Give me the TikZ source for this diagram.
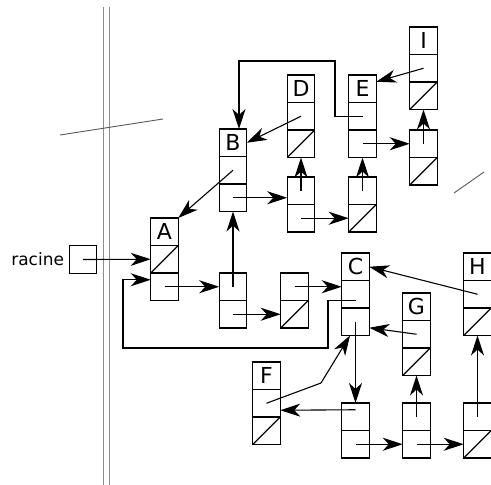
\documentclass[tikz,border=0pt]{standalone}
\usepackage{fontspec}
\setmainfont{DejaVu Sans}
\usepackage{tikz}
\usetikzlibrary{arrows.meta,calc,positioning}

\begin{document}
\begin{tikzpicture}[
  x=1pt, y=-1pt,
  cell/.style={rectangle, draw, line width=1.1pt, minimum width=27.5pt, minimum height=27.5pt, inner sep=0pt, outer sep=0pt, font=\fontsize{22}{22}\selectfont},
  nil/.style={path picture={\draw[line width=1.1pt] (path picture bounding box.south west) -- (path picture bounding box.north east);}},
  arrow/.style={-{Stealth[length=20pt, width=13pt, inset=6pt]}, line width=1.1pt},
  wall/.style={draw=black!45, line width=1pt},
  cut/.style={draw=black!65, line width=0.9pt}
]
\useasboundingbox (0,0) rectangle (491,485);

% the wall and the cuts
\draw[wall] (103,7) -- (103,485);
\draw[wall] (109.5,7) -- (109.5,485);
\draw[cut] (60,135) -- (163,119);
\draw[cut] (454,193) -- (484,172);

% root pointer
\node[cell] (R) at (83,259.5) {};
\node[left=4pt of R, inner sep=1pt, font=\fontsize{17}{17}\selectfont] (racine) {racine};

% named nodes: label, first cell, second cell
\node[cell] (A1) at (164.5,231.75) {A};
\node[cell, nil, below=0pt of A1] (A2) {};
\node[cell, below=0pt of A2] (A3) {};

\node[cell] (B1) at (233,142.75) {B};
\node[cell, below=0pt of B1] (B2) {};
\node[cell, below=0pt of B2] (B3) {};

\node[cell] (C1) at (355.5,266.75) {C};
\node[cell, below=0pt of C1] (C2) {};
\node[cell, below=0pt of C2] (C3) {};

\node[cell] (D1) at (301,88.75) {D};
\node[cell, below=0pt of D1] (D2) {};
\node[cell, nil, below=0pt of D2] (D3) {};

\node[cell] (E1) at (362.5,88.75) {E};
\node[cell, below=0pt of E1] (E2) {};
\node[cell, below=0pt of E2] (E3) {};

\node[cell] (F1) at (266.5,375.75) {F};
\node[cell, below=0pt of F1] (F2) {};
\node[cell, nil, below=0pt of F2] (F3) {};

\node[cell] (G1) at (416.5,306.75) {G};
\node[cell, below=0pt of G1] (G2) {};
\node[cell, nil, below=0pt of G2] (G3) {};

\node[cell] (H1) at (477.5,266.75) {H};
\node[cell, below=0pt of H1] (H2) {};
\node[cell, nil, below=0pt of H2] (H3) {};

\node[cell] (I1) at (423.5,40.75) {I};
\node[cell, below=0pt of I1] (I2) {};
\node[cell, nil, below=0pt of I2] (I3) {};

% list cells
\node[cell] (Bc1) at (233,286.75) {};
\node[cell, below=0pt of Bc1] (Bc2) {};
\node[cell] (Bd1) at (294.5,286.75) {};
\node[cell, nil, below=0pt of Bd1] (Bd2) {};

\node[cell] (Dc1) at (301,190.75) {};
\node[cell, below=0pt of Dc1] (Dc2) {};
\node[cell] (Ec1) at (362.5,190.75) {};
\node[cell, nil, below=0pt of Ec1] (Ec2) {};

\node[cell] (Ic1) at (423.5,143.75) {};
\node[cell, nil, below=0pt of Ic1] (Ic2) {};

\node[cell] (Cc1) at (355.5,416.75) {};
\node[cell, below=0pt of Cc1] (Cc2) {};
\node[cell] (Gc1) at (416.5,416.75) {};
\node[cell, below=0pt of Gc1] (Gc2) {};
\node[cell] (Hc1) at (477.5,416.75) {};
\node[cell, nil, below=0pt of Hc1] (Hc2) {};

\coordinate (loopC) at (328,300);
\coordinate (loopL) at (123,348);
\coordinate (loopE) at (335,61);
\coordinate (bendF) at (321,383);

\draw[arrow] (R.center) -- (A2.west);
\draw[arrow] (A3.center) -- (Bc1.west);
\draw[arrow] ([yshift=-6pt]C2.center) -| (loopL -| loopC) -- (loopL) |- ([yshift=7pt]A3.west);

\draw[arrow] (B2.center) -- (A1.north east);
\draw[arrow] (B3.center) -- (B3.center -| Dc1.west);
\draw[arrow] (Bc1.center) -- (B3.south);
\draw[arrow] (Bc2.center) -- (Bd2.west);
\draw[arrow] (Bd1.center) -- (Bd1.center -| C2.west);

\draw[arrow] (D2.center) -- (B1.east);
\draw[arrow] (Dc1.center) -- (D3.south);
\draw[arrow] (Dc2.center) -- (Ec2.west);
\draw[arrow] (Ec1.center) -- (E3.south);
\draw[arrow] (E2.center) -| (loopE) -| ([xshift=6pt]B1.north);
\draw[arrow] (E3.center) -- (Ic1.west);
\draw[arrow] (Ic1.center) -- (I3.south);
\draw[arrow] (I2.center) -- ([yshift=7pt]E1.east);

\draw[arrow] (C3.center) -- (Cc1.north);
\draw[arrow] (H2.center) -- (C1.east);
\draw[arrow] (G2.center) -- ([yshift=-6pt]C3.east);
\draw[arrow] (F2.center) -- (bendF) -- ([xshift=-5.5pt]C3.south);
\draw[arrow] ([yshift=7pt]Cc1.center) -- ([yshift=-7pt]F2.east);
\draw[arrow] (Cc2.center) -- (Gc2.west);
\draw[arrow] (Gc1.center) -- (G3.south);
\draw[arrow] (Gc2.center) -- (Hc2.west);
\draw[arrow] (Hc1.center) -- (H3.south);

\end{tikzpicture}
\end{document}
